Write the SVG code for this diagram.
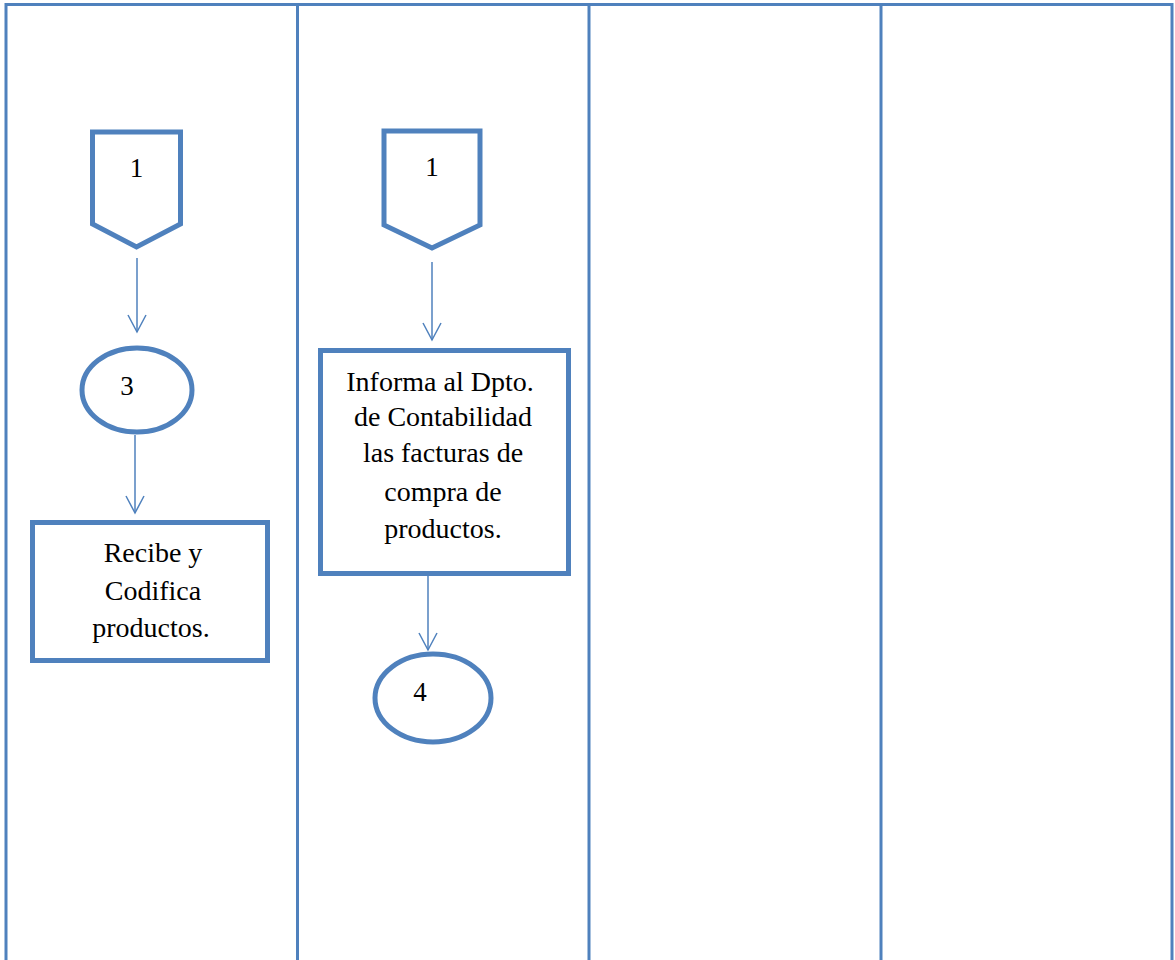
<svg xmlns="http://www.w3.org/2000/svg" width="1175" height="960" viewBox="0 0 1175 960">
<defs>
<style>
.lane{stroke:#4F81BD;stroke-width:3;fill:none}
.shape{stroke:#4F81BD;stroke-width:5;fill:#fff}
.conn{stroke:#4F81BD;stroke-width:1.5;fill:none}
.t{font-family:"Liberation Serif","Times New Roman",serif;font-size:27px;fill:#000;text-anchor:middle}
.b{font-size:28px}
</style>
<marker id="open" viewBox="0 0 20 20" refX="18" refY="10" markerWidth="20" markerHeight="20" markerUnits="userSpaceOnUse" orient="auto">
<path d="M1,1 L18,10 L1,19" stroke="#4F81BD" stroke-width="1.5" fill="none"/>
</marker>
</defs>
<rect width="1175" height="960" fill="#fff"/>
<g id="lanes">
<path class="lane" d="M6,960 V4.5 H1172 V960"/>
<line class="lane" x1="297.5" y1="4.5" x2="297.5" y2="960"/>
<line class="lane" x1="589" y1="4.5" x2="589" y2="960"/>
<line class="lane" x1="881" y1="4.5" x2="881" y2="960"/>
</g>
<g id="connectors">
<line class="conn" x1="137" y1="258" x2="137" y2="332" marker-end="url(#open)"/>
<line class="conn" x1="135" y1="435" x2="135" y2="513" marker-end="url(#open)"/>
<line class="conn" x1="432" y1="262" x2="432" y2="340" marker-end="url(#open)"/>
<line class="conn" x1="428" y1="576" x2="428" y2="650" marker-end="url(#open)"/>
</g>
<g id="offpage1a">
<path class="shape" d="M92.5,132 H180.5 V224 L136.5,247 L92.5,224 Z"/>
<text class="t" x="136.5" y="177">1</text>
</g>
<g id="circle3">
<ellipse class="shape" cx="137" cy="390" rx="55" ry="42"/>
<text class="t" x="127" y="395">3</text>
</g>
<g id="box-recibe">
<rect class="shape" x="32.5" y="522.5" width="235" height="138"/>
<text class="t b" x="153" y="562">Recibe y</text>
<text class="t b" x="153" y="600">Codifica</text>
<text class="t b" x="151" y="637">productos.</text>
</g>
<g id="offpage1b">
<path class="shape" d="M384,131 H480 V225 L432,248 L384,225 Z"/>
<text class="t" x="432" y="176">1</text>
</g>
<g id="box-informa">
<rect class="shape" x="320.5" y="350.5" width="248" height="223"/>
<text class="t b" x="440" y="391">Informa al Dpto.</text>
<text class="t b" x="443" y="426">de Contabilidad</text>
<text class="t b" x="443" y="462">las facturas de</text>
<text class="t b" x="443" y="501">compra de</text>
<text class="t b" x="443" y="538">productos.</text>
</g>
<g id="circle4">
<ellipse class="shape" cx="433" cy="698" rx="58" ry="44"/>
<text class="t" x="420" y="701">4</text>
</g>
</svg>
